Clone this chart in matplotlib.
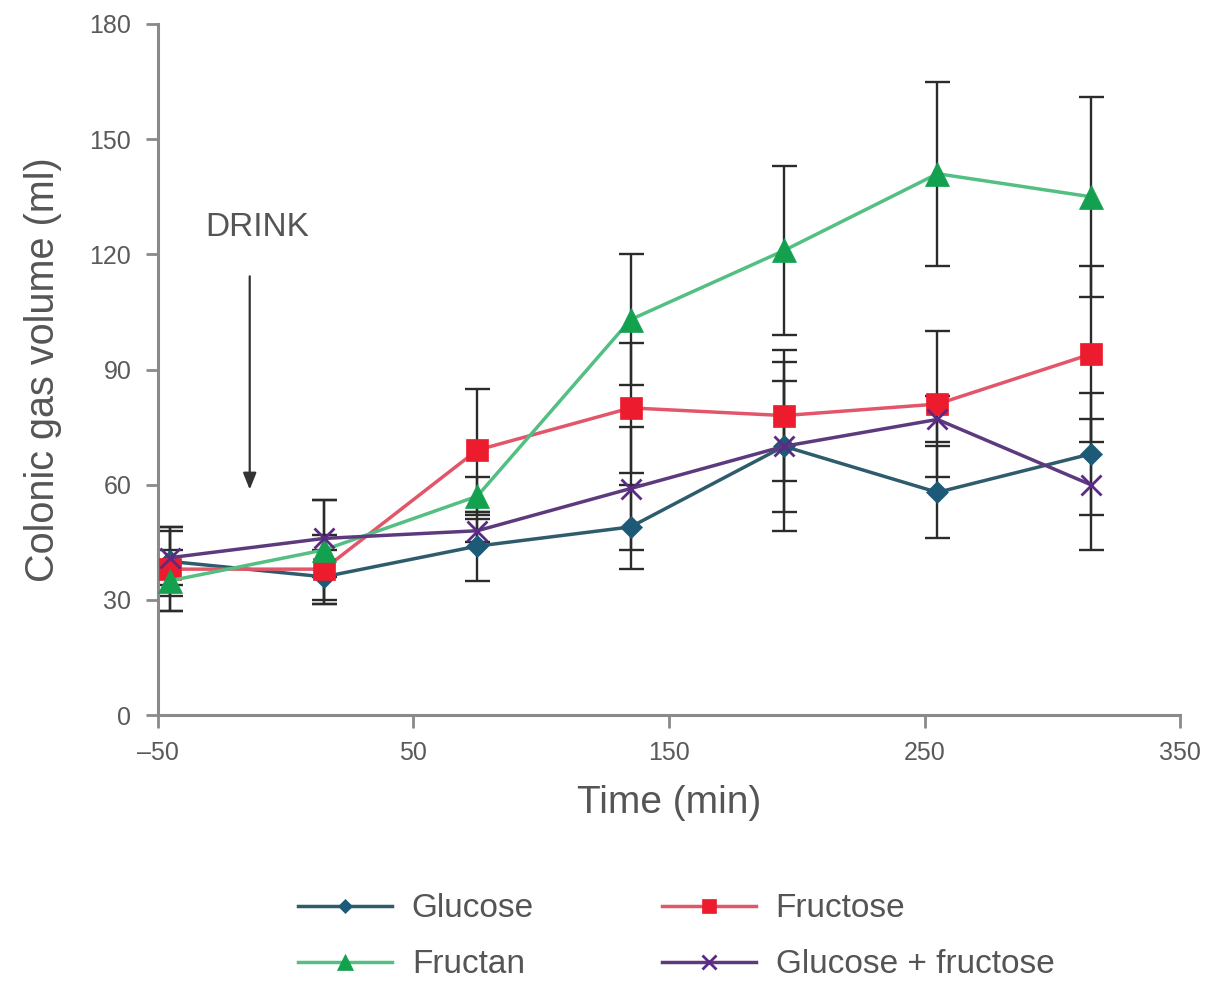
import numpy as np
from matplotlib import pyplot as plt

plt.rcParams['font.family'] = ['Liberation Sans', 'DejaVu Sans']

time_min = [-45, 15, 75, 135, 195, 255, 315]

glucose = [40, 36, 44, 49, 70, 58, 68]
glucose_err = [9, 7, 9, 11, 22, 12, 16]
fructose = [38, 38, 69, 80, 78, 81, 94]
fructose_err = [11, 9, 16, 17, 17, 19, 23]
fructan = [35, 43, 57, 103, 121, 141, 135]
fructan_err = [8, 13, 5, 17, 22, 24, 26]
glu_fru = [41, 46, 48, 59, 70, 77, 60]
glu_fru_err = [7, 10, 3, 16, 17, 6, 17]

x_ticks = [-50, 50, 150, 250, 350]
y_ticks = [0, 30, 60, 90, 120, 150, 180]

series = [
    ("Glucose", glucose, glucose_err, "#1d5a78", "#2e5c6c", "D", 11),
    ("Fructose", fructose, fructose_err, "#ec1c2e", "#e2566a", "s", 16),
    ("Fructan", fructan, fructan_err, "#13a14f", "#54bf82", "^", 17),
    ("Glucose + fructose", glu_fru, glu_fru_err, "#5b2a86", "#5d3a7e", "x", 15),
]

fig = plt.figure(figsize=(12.13, 9.83), dpi=100)
ax = fig.add_axes([0.130, 0.2726, 0.843, 0.703])

x = np.array(time_min)
# error bars first, black, behind the markers
for name, vals, err, mc, lc, mk, ms in series:
    ax.errorbar(x, vals, yerr=err, fmt="none", ecolor="#2b2b2b", elinewidth=1.7,
                capsize=9, capthick=1.7, zorder=2)

handles = {}
for i, (name, vals, err, mc, lc, mk, ms) in enumerate(series):
    mew = 2.0 if mk == "x" else 0.5
    h, = ax.plot(x, vals, color=lc, lw=2.5, marker=mk, markersize=ms,
                 markerfacecolor=mc, markeredgecolor=mc, markeredgewidth=mew,
                 label=name, zorder=3 + i)
    handles[name] = h

ax.set_xlim(-50, 350)
ax.set_ylim(0, 180)
ax.set_xticks(x_ticks)
ax.set_yticks(y_ticks)
ax.set_xticklabels(["\u201350", "50", "150", "250", "350"])

for side in ["top", "right"]:
    ax.spines[side].set_visible(False)
for side in ["left", "bottom"]:
    ax.spines[side].set_color("#8a8a8a")
    ax.spines[side].set_linewidth(2.2)
ax.tick_params(axis="both", colors="#8a8a8a", width=2, length=9,
               labelsize=18, labelcolor="#5a5a5a", pad=10)

ax.set_xlabel("Time (min)", fontsize=28, color="#555555", labelpad=14)
ax.set_ylabel("Colonic gas volume (ml)", fontsize=28.5, color="#555555", labelpad=20)

# drink marker
ax.annotate("", xy=(-14, 58), xytext=(-14, 115),
            arrowprops=dict(arrowstyle="-|>,head_width=0.4,head_length=1.0",
                        color="#333333", lw=1.6))
ax.text(-11, 127, "DRINK", fontsize=24, color="#555555", ha="center", va="center")

order = ["Glucose", "Fructan", "Fructose", "Glucose + fructose"]
fig.legend([handles[n] for n in order], order, loc="center",
           bbox_to_anchor=(0.5576, 0.047), ncol=2, frameon=False, fontsize=24,
           handlelength=2.8, handletextpad=0.6, columnspacing=3.85,
           labelspacing=0.75, markerscale=0.65, labelcolor="#555555")

fig.savefig("out.png", dpi=100)
